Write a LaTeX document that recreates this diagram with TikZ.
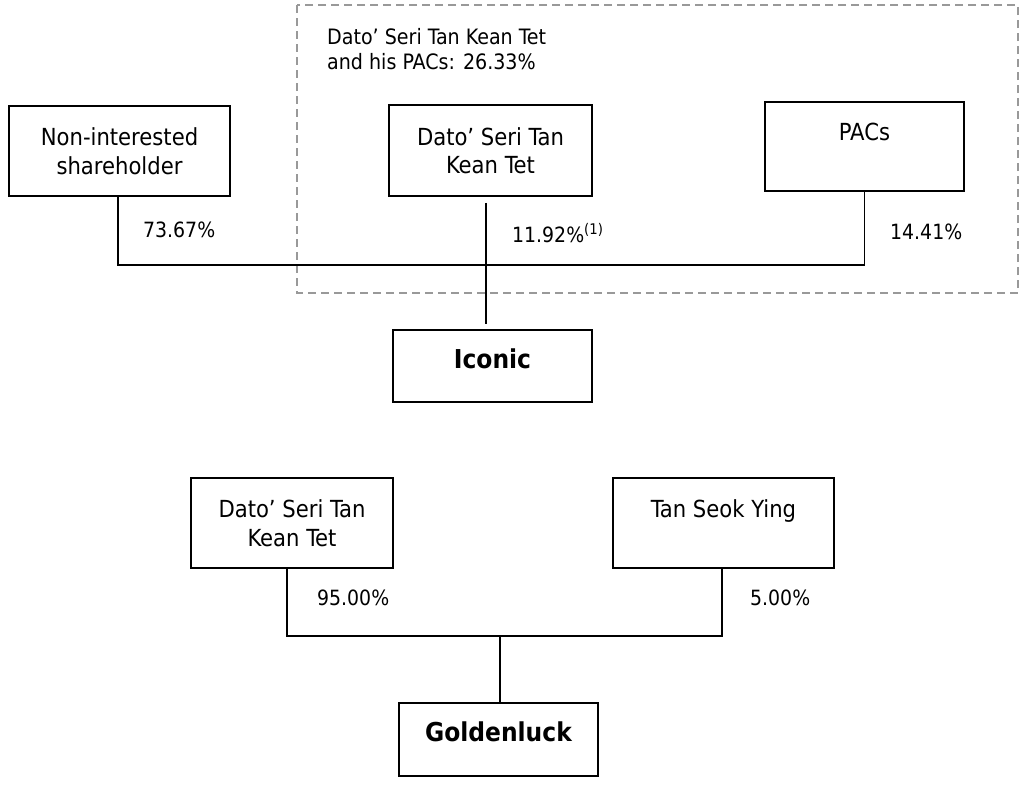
\documentclass[tikz,border=0pt]{standalone}
\usepackage{fontspec}
\setmainfont{DejaVu Sans Condensed}
\usepackage{tikz}

\tikzset{
  holder/.style={draw, line width=1.6pt, inner sep=0pt, align=center,
    font=\fontsize{23.5}{28.5}\selectfont},
  company/.style={holder, font=\fontsize{26}{30}\selectfont\bfseries,
    text height=19pt, text depth=15pt},
  share/.style={anchor=west, inner sep=0pt, font=\fontsize{21}{24}\selectfont},
  link/.style={line width=1.5pt}
}

\begin{document}
\begin{tikzpicture}[x=1pt, y=-1pt]
  \useasboundingbox (0,0) rectangle (1025,787);

  % group of Dato' Seri Tan Kean Tet and his PACs
  \draw[gray!80, line width=1.3pt, dash pattern=on 8pt off 5pt] (297,5) rectangle (1018,293);
  \node[share, align=left, font=\fontsize{21.2}{25}\selectfont] (group) at (327,49.5)
    {Dato’ Seri Tan Kean Tet\\and his PACs: 26.33\%};

  % Iconic
  \node[holder, minimum width=221pt, minimum height=90pt] (nonint) at (119.5,151) {Non-interested\\shareholder};
  \node[holder, minimum width=203pt, minimum height=91pt] (datotop) at (490.5,150.5) {Dato’ Seri Tan\\Kean Tet};
  \node[holder, minimum width=199pt, minimum height=89pt] (pacs) at (864.5,146.5) {PACs\\\mbox{}};
  \node[company, minimum width=199pt, minimum height=72pt] (iconic) at (492.5,366) {Iconic};

  \coordinate (topbus) at (486,265);
  \draw[link] (nonint.south -| 118,0) |- (topbus) -| (pacs.south);
  \draw[link] ([yshift=-6pt]datotop.south -| topbus) -- ([yshift=5pt]iconic.north -| topbus);

  \node[share] (p1) at (143,230) {73.67\%};
  \node[share] (p2) at (512,233) {11.92\%\textsuperscript{(1)}};
  \node[share] (p3) at (890,232) {14.41\%};

  % Goldenluck
  \node[holder, minimum width=202pt, minimum height=90pt] (datolow) at (292,523) {Dato’ Seri Tan\\Kean Tet};
  \node[holder, minimum width=221pt, minimum height=90pt] (tsy) at (723.5,523) {Tan Seok Ying\\\mbox{}};
  \node[company, minimum width=199pt, minimum height=73pt] (golden) at (498.5,739.5) {Goldenluck};

  \coordinate (lowbus) at (500,636);
  \draw[link] (datolow.south -| 287,0) |- (lowbus) -| (tsy.south -| 722,0);
  \draw[link] (lowbus) -- (lowbus |- golden.north);

  \node[share] (p4) at (317,598) {95.00\%};
  \node[share] (p5) at (750,598) {5.00\%};
\end{tikzpicture}
\end{document}
